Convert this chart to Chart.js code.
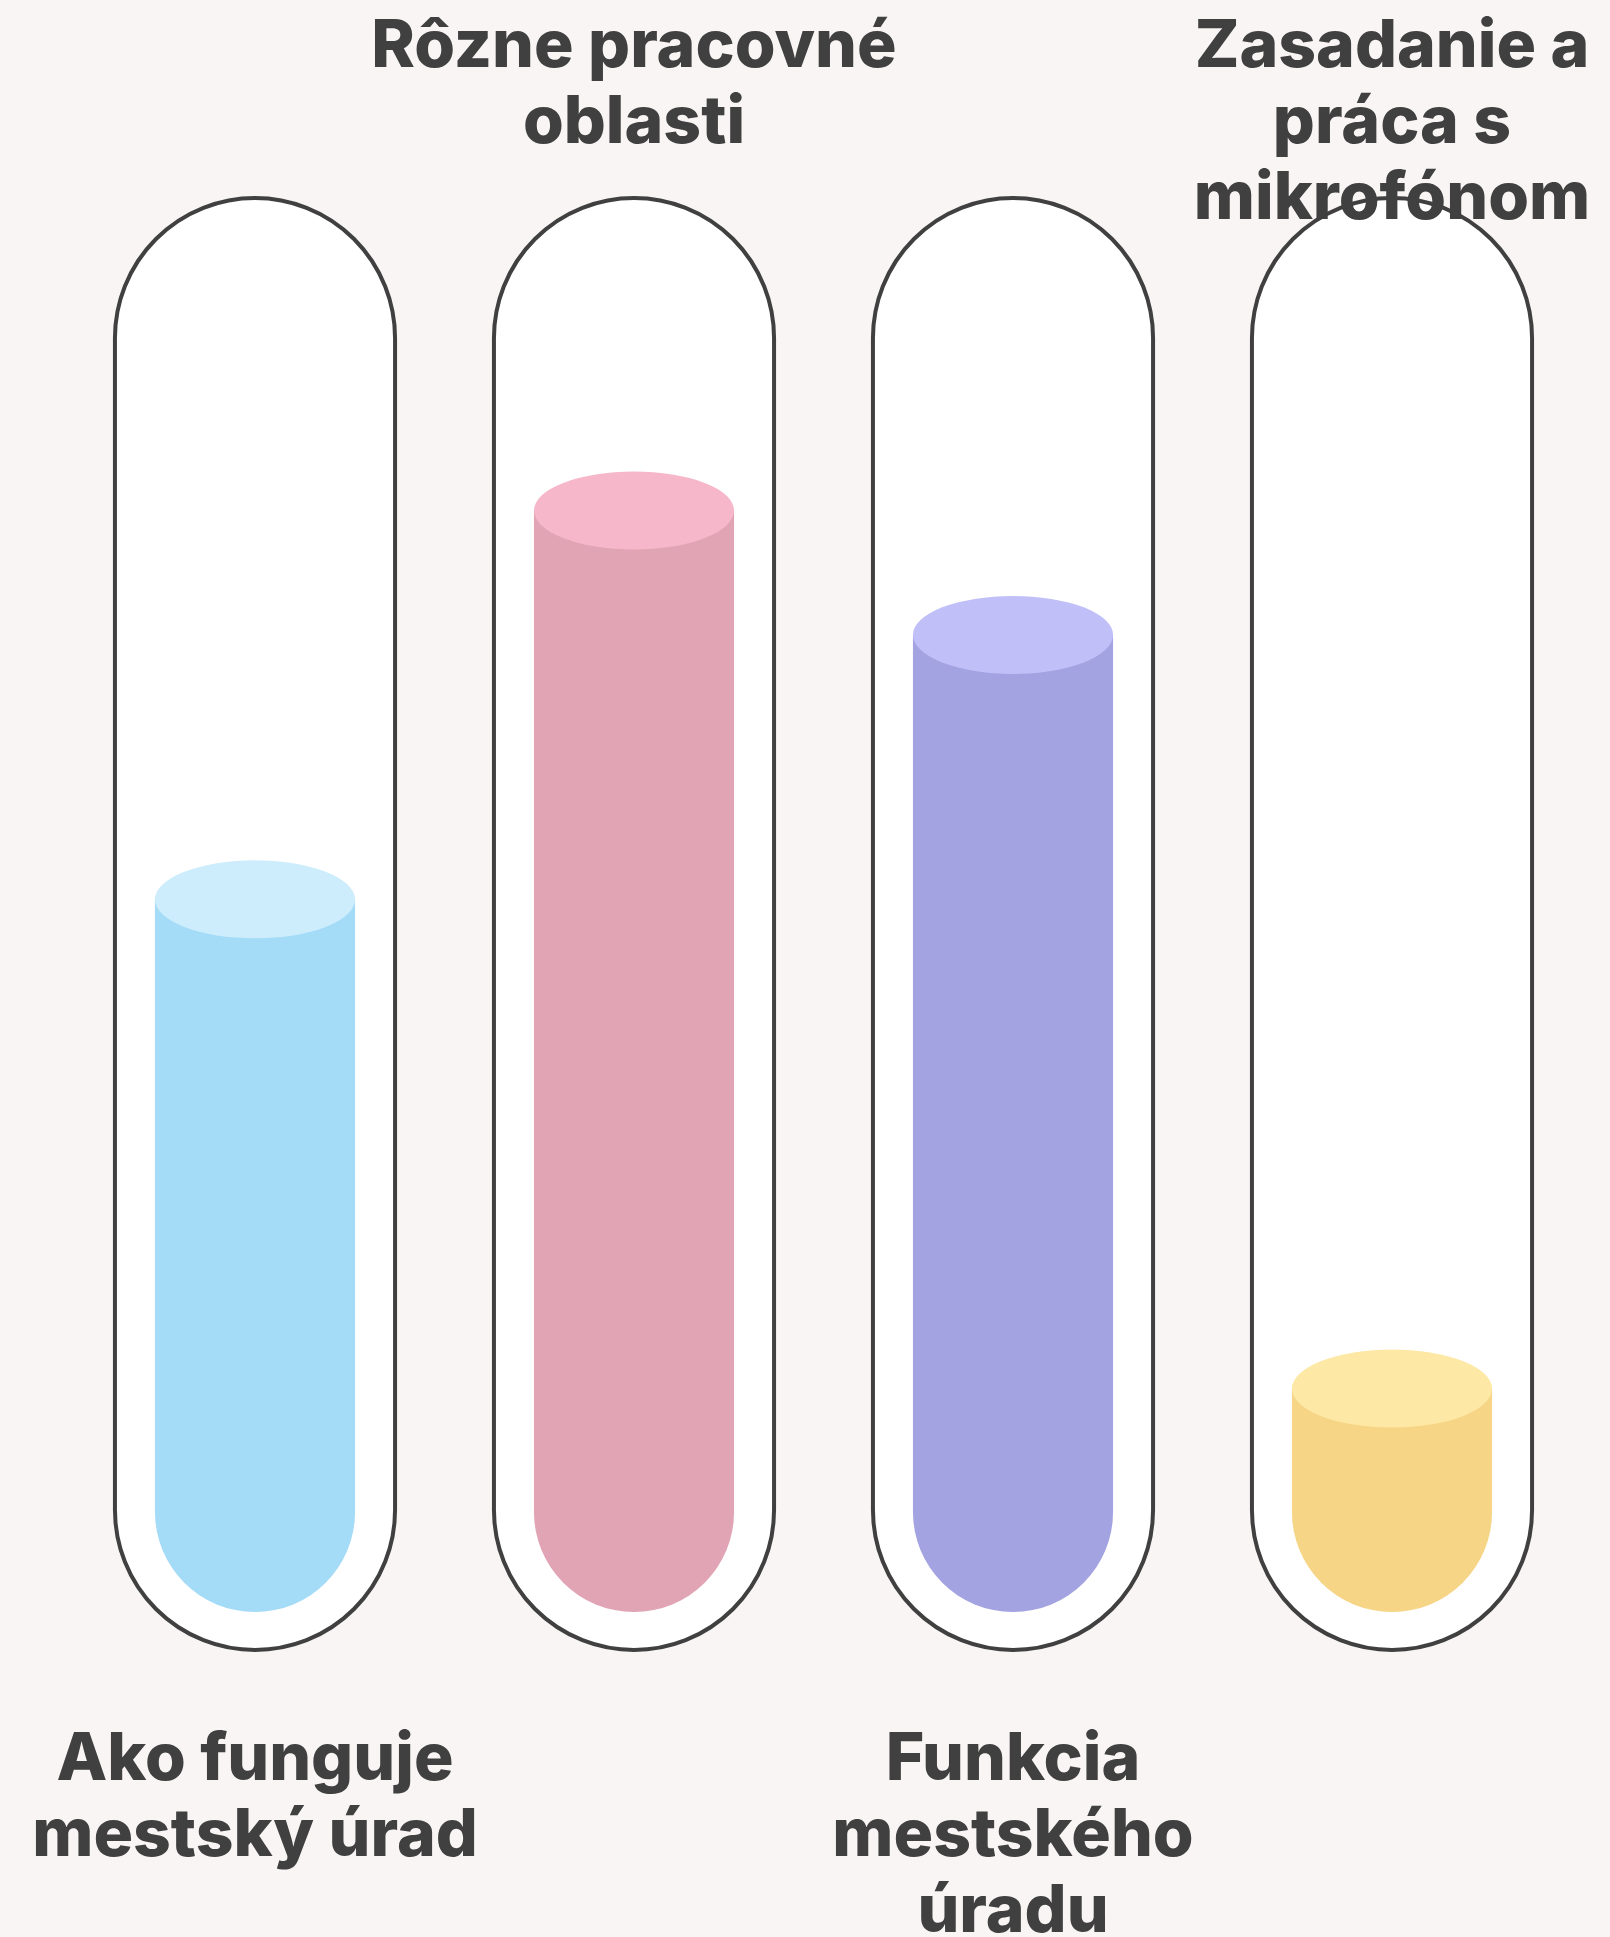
<!DOCTYPE html>
<html>
<head>
<meta charset="utf-8">
<script src="https://cdn.jsdelivr.net/npm/chart.js@4.4.1/dist/chart.umd.min.js"></script>
<style>
  html, body { margin: 0; padding: 0; background: #f9f5f4; }
  #wrap { width: 1610px; height: 1937px; }
</style>
</head>
<body>
<div id="wrap"><canvas id="myChart" width="1610" height="1937"></canvas></div>
<script>
// data (share of tube height, 0-100)
var categorias = ['Ako funguje mestský úrad', 'Rôzne pracovné oblasti', 'Funkcia mestského úradu', 'Zasadanie a práca s mikrofónom'];
var valores = [50.4, 77.9, 69.1, 15.8];
var linhas_rotulo = [
  ['Ako funguje', 'mestský úrad'],
  ['Rôzne pracovné', 'oblasti'],
  ['Funkcia', 'mestského', 'úradu'],
  ['Zasadanie a', 'práca s', 'mikrofónom']
];
var rotulo_em_cima = [false, true, false, true];
var cor_corpo = ['#a4dbf7', '#e1a4b5', '#a4a3e1', '#f6d686'];
var cor_topo = ['#cdedfc', '#f6b7ca', '#c0bff8', '#fee8a6'];

var FONTE = '800 66px Inter';
var COR_TEXTO = '#404040';

function tubo(ctx, x, top, bottom, w) {
  var r = w / 2;
  ctx.beginPath();
  ctx.moveTo(x - r, top + r);
  ctx.arc(x, top + r, r, Math.PI, 0);
  ctx.lineTo(x + r, bottom - r);
  ctx.arc(x, bottom - r, r, 0, Math.PI);
  ctx.closePath();
}

function geometria(chart, i) {
  var bar = chart.getDatasetMeta(0).data[i];
  var area = chart.chartArea;
  var w = bar.width + 80;
  return { x: bar.x, top: area.top, bottom: area.bottom + 38, w: w, bar: bar };
}

// tube glass (fill before bars, outline after labels)
var tubos = {
  id: 'tubos',
  beforeDatasetsDraw: function (chart) {
    var ctx = chart.ctx;
    ctx.save();
    for (var i = 0; i < categorias.length; i++) {
      var g = geometria(chart, i);
      tubo(ctx, g.x, g.top, g.bottom, g.w);
      ctx.fillStyle = '#ffffff';
      ctx.fill();
    }
    ctx.restore();
  },
  afterDatasetsDraw: function (chart) {
    var ctx = chart.ctx;
    ctx.save();
    // liquid surface
    for (var i = 0; i < categorias.length; i++) {
      var bar = chart.getDatasetMeta(0).data[i];
      ctx.beginPath();
      ctx.ellipse(bar.x, bar.y, bar.width / 2, 39, 0, 0, Math.PI * 2);
      ctx.fillStyle = cor_topo[i];
      ctx.fill();
    }
    // labels
    ctx.font = FONTE;
    ctx.fillStyle = COR_TEXTO;
    ctx.textAlign = 'center';
    ctx.textBaseline = 'alphabetic';
    for (var i = 0; i < categorias.length; i++) {
      var g = geometria(chart, i);
      var linhas = linhas_rotulo[i];
      var y0 = rotulo_em_cima[i] ? g.top - 131 : g.bottom + 130;
      for (var k = 0; k < linhas.length; k++) {
        ctx.fillText(linhas[k], g.x, y0 + k * 76);
      }
    }
    // outline
    ctx.strokeStyle = '#404040';
    ctx.lineWidth = 4;
    for (var i = 0; i < categorias.length; i++) {
      var g = geometria(chart, i);
      tubo(ctx, g.x, g.top, g.bottom, g.w);
      ctx.stroke();
    }
    ctx.restore();
  }
};

const ctx = document.getElementById('myChart');
const grafico = new Chart(ctx, {
  type: 'bar',
  data: {
    labels: categorias,
    datasets: [{
      data: valores,
      backgroundColor: cor_corpo,
      borderWidth: 0,
      borderSkipped: false,
      borderRadius: { topLeft: 0, topRight: 0, bottomLeft: 100, bottomRight: 100 },
      categoryPercentage: 1,
      barPercentage: 0.528
    }]
  },
  options: {
    responsive: false,
    animation: false,
    devicePixelRatio: 1,
    layout: { padding: { left: 65.5, right: 28.5, top: 198, bottom: 325 } },
    scales: {
      x: { display: false },
      y: { display: false, min: 0, max: 100 }
    },
    plugins: {
      legend: { display: false },
      tooltip: { enabled: false }
    }
  },
  plugins: [tubos]
});
</script>
</body>
</html>
